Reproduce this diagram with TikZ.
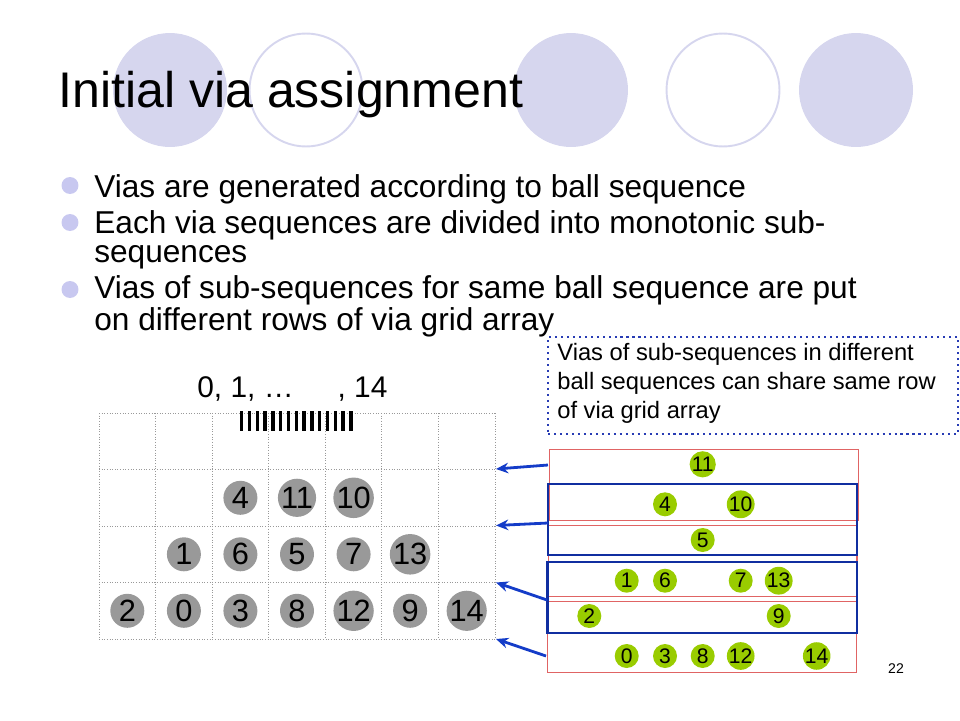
\documentclass[tikz,border=0pt]{standalone}
\usepackage{fontspec}
\setmainfont{Liberation Sans}
\usepackage{tikz}
\usetikzlibrary{arrows.meta,positioning}

\definecolor{lavender}{RGB}{214,214,238}
\definecolor{bullet}{RGB}{200,200,240}
\definecolor{viagray}{RGB}{153,153,153}
\definecolor{viagreen}{RGB}{153,204,0}
\definecolor{rowred}{RGB}{224,100,100}
\definecolor{pairblue}{RGB}{16,46,160}
\definecolor{arrowblue}{RGB}{20,60,200}
\definecolor{notedot}{RGB}{40,60,180}

\begin{document}
\begin{tikzpicture}[x=0.02cm,y=-0.02cm]
	\tikzstyle{ball}=[circle,fill=viagray,inner sep=0pt,minimum size=0.68cm,font=\fontsize{17.5}{17.5}\selectfont]
	\tikzstyle{gball}=[circle,fill=viagreen,inner sep=0pt,minimum size=0.48cm,font=\fontsize{12}{12}\selectfont]
	\tikzstyle{rowbox}=[draw=rowred,line width=0.6pt,rectangle,inner sep=0pt,minimum width=6.18cm,minimum height=1.42cm]
	\tikzstyle{pairbox}=[draw=pairblue,line width=1.4pt,rectangle,inner sep=0pt,minimum width=6.19cm,minimum height=1.42cm]
	\tikzstyle{viaarrow}=[arrowblue,line width=1.6pt,-{Stealth[length=7pt,width=6pt]}]
	\tikzstyle{gridline}=[gray!80,line width=0.5pt,densely dotted]
	\tikzstyle{bulletdot}=[circle,fill=bullet,inner sep=0pt,minimum size=0.34cm]
	\tikzstyle{bullettext}=[anchor=base west,inner sep=0pt,align=left,font=\fontsize{18}{16.4}\selectfont]
	\useasboundingbox (0,0) rectangle (960,720);

	%background circles
	\fill[lavender] (170,90) circle [radius=1.14cm];
	\draw[lavender,line width=1.1pt] (306,90) circle [radius=1.13cm];
	\fill[lavender] (571,90) circle [radius=1.14cm];
	\draw[lavender,line width=1.1pt] (723,90) circle [radius=1.13cm];
	\fill[lavender] (856,90) circle [radius=1.14cm];

	\node[anchor=base west,inner sep=0pt,font=\fontsize{28.5}{30}\selectfont] (title) at (58,107) {Initial via assignment};

	%bullets (base = last line)
	\node[bulletdot] (d1) at (70,185.5) {};
	\node[bullettext] (b1) at (94,197) {Vias are generated according to ball sequence};
	\node[bulletdot] (d2) at (70,222.5) {};
	\node[bullettext] (b2) at (94,262) {Each via sequences are divided into monotonic sub-\\sequences};
	\node[bulletdot] (d3) at (70,289.5) {};
	\node[bullettext] (b3) at (94,330) {Vias of sub-sequences for same ball sequence are put\\on different rows of via grid array};

	%via grid
	\foreach \i in {0,...,7}
		\draw[gridline] (99+56.57*\i,413) -- (99+56.57*\i,639);
	\foreach \j in {0,...,4}
		\draw[gridline] (99,413+56.5*\j) -- (495,413+56.5*\j);

	\node[anchor=base west,inner sep=0pt,font=\fontsize{17}{17}\selectfont] (seq) at (197,397) {0, 1, …\hspace{25pt}, 14};
	\foreach \k in {0,...,14}
		\fill (240+7.8*\k,411) rectangle (243.3+7.8*\k,431);

	\node[ball] (v4) at (240.4,497.8) {4};
	\node[ball] (v11) at (297,497.8) {11};
	\node[ball] (v10) at (353.6,497.8) {10};
	\node[ball] (v1) at (183.9,554.3) {1};
	\node[ball] (v6) at (240.4,554.3) {6};
	\node[ball] (v5) at (297,554.3) {5};
	\node[ball] (v7) at (353.6,554.3) {7};
	\node[ball] (v13) at (410.1,554.3) {13};
	\node[ball] (v2) at (127.3,610.8) {2};
	\node[ball] (v0) at (183.9,610.8) {0};
	\node[ball] (v3) at (240.4,610.8) {3};
	\node[ball] (v8) at (297,610.8) {8};
	\node[ball] (v12) at (353.6,610.8) {12};
	\node[ball] (v9) at (410.1,610.8) {9};
	\node[ball] (v14) at (466.7,610.8) {14};

	%note
	\node[draw=notedot,line width=1.3pt,dash pattern=on 1.2pt off 2.2pt,rectangle,minimum width=8.2cm,minimum height=1.94cm] (note) at (753,385.5) {};
	\node[anchor=base west,inner sep=0pt,align=left,font=\fontsize{13.5}{16.5}\selectfont] (notetext) at (557,418) {Vias of sub-sequences in different\\ball sequences can share same row\\of via grid array};

	%rows of via grid array
	\node[rowbox] (row1) at (703.8,484.8) {};
	\node[rowbox] (row2) at (702.5,561) {};
	\node[rowbox] (row3) at (702,636.8) {};
	\node[pairbox] (pair1) at (702.5,519.3) {};
	\node[pairbox] (pair2) at (702.3,597.3) {};

	\node[gball] (g11) at (702.7,464.3) {11};
	\node[gball] (g4) at (665,504.3) {4};
	\node[gball] (g10) at (740.7,504.3) {10};
	\node[gball] (g5) at (702.7,540) {5};
	\node[gball] (g1) at (626.7,580.7) {1};
	\node[gball] (g6) at (665,580.7) {6};
	\node[gball] (g7) at (740.7,580.7) {7};
	\node[gball] (g13) at (778.7,580.7) {13};
	\node[gball] (g2) at (589.3,616) {2};
	\node[gball] (g9) at (778.7,616) {9};
	\node[gball] (g0) at (626.7,656) {0};
	\node[gball] (g3) at (665,656) {3};
	\node[gball] (g8) at (702.7,656) {8};
	\node[gball] (g12) at (740.7,656) {12};
	\node[gball] (g14) at (816.7,656) {14};

	%arrows to grid lines
	\coordinate (s1) at (548,465);
	\coordinate (s2) at (548,523);
	\coordinate (s3) at (547,600);
	\coordinate (s4) at (546,656);
	\coordinate (e1) at (496,469);
	\coordinate (e2) at (496,525.5);
	\coordinate (e3) at (496,582.5);
	\coordinate (e4) at (496,639);
	\draw[viaarrow] (s1) -- (e1);
	\draw[viaarrow] (s2) -- (e2);
	\draw[viaarrow] (s3) -- (e3);
	\draw[viaarrow] (s4) -- (e4);

	\node[font=\fontsize{8}{8}\selectfont] (page) at (896,669) {22};
\end{tikzpicture}
\end{document}
